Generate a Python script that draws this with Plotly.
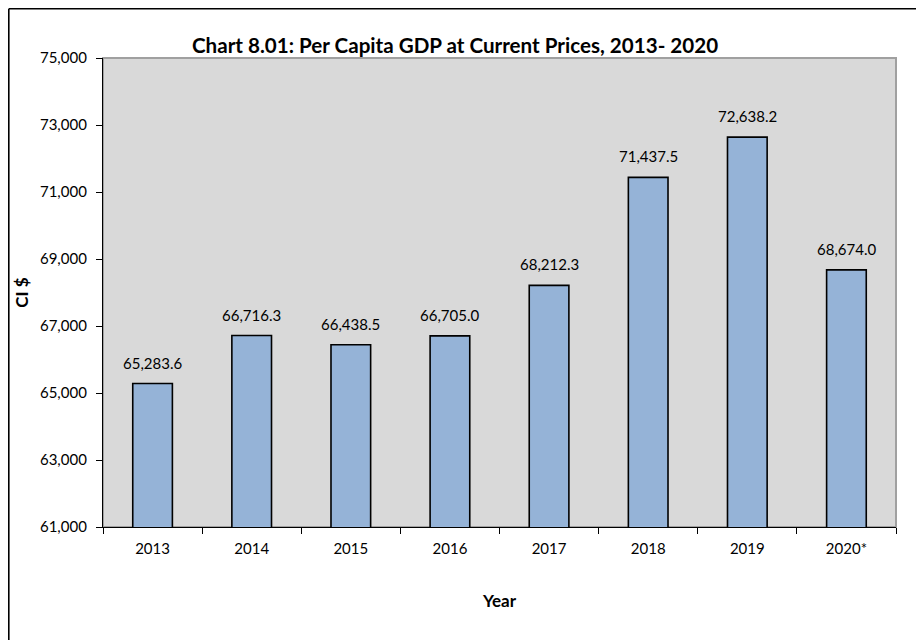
import plotly.graph_objects as go

years = ["2013", "2014", "2015", "2016", "2017", "2018", "2019", "2020*"]
gdp_per_capita = [65283.6, 66716.3, 66438.5, 66705.0, 68212.3, 71437.5, 72638.2, 68674.0]
y_ticks = [61000, 63000, 65000, 67000, 69000, 71000, 73000, 75000]

FONT = "Lato"
OFF = 8  # page body margin offset
W, H = 924, 640
L, T = 103 - OFF, 58 - OFF
R = W - (896 - OFF)
B = H - (527 - OFF)
pw, ph = W - L - R, H - T - B

fig = go.Figure()
fig.add_trace(go.Bar(
    x=years, y=gdp_per_capita,
    marker=dict(color="#95b3d7", line=dict(color="#000000", width=1.6)),
    hoverinfo="x+y",
))

annotations = []
for i, v in enumerate(gdp_per_capita):
    annotations.append(dict(
        x=i, y=v, xref="x", yref="y", text=f"{v:,.1f}", showarrow=False,
        yanchor="bottom", yshift=10, font=dict(family=FONT, size=15, color="#000")))

annotations.append(dict(
    x=(455 - OFF - L) / pw, y=1 + (T - (45 - OFF)) / ph, xref="paper", yref="paper",
    text="<b>Chart 8.01: Per Capita GDP at Current Prices, 2013- 2020</b>",
    showarrow=False, xanchor="center", yanchor="middle",
    font=dict(family=FONT, size=20.6, color="#000")))

bx = (0.8 - L) / pw
by = 1 + (T - 0.8) / ph
fig.update_layout(
    width=W, height=H,
    margin=dict(l=L, r=R, t=T, b=B),
    paper_bgcolor="#ffffff",
    plot_bgcolor="#d9d9d9",
    bargap=0.6,
    showlegend=False,
    font=dict(family=FONT, size=15, color="#000"),
    annotations=annotations,
    shapes=[
        dict(type="rect", xref="paper", yref="paper", x0=0, x1=1, y0=0, y1=1,
             line=dict(color="#a0a0a0", width=2), layer="below"),
        dict(type="line", xref="paper", yref="paper",
             x0=bx, x1=bx, y0=by, y1=-(B + 10) / ph,
             line=dict(color="#000", width=1.6)),
        dict(type="line", xref="paper", yref="paper",
             x0=bx, x1=1 + (R + 10) / pw, y0=by, y1=by,
             line=dict(color="#000", width=1.6)),
    ],
    xaxis=dict(
        type="category", range=[-0.5, len(years) - 0.5], autorange=False,
        showgrid=False, showline=True, linecolor="#000", linewidth=1.3,
        ticks="outside", tickson="boundaries", ticklen=6, tickcolor="#000", tickwidth=1.3,
        tickfont=dict(family=FONT, size=15), tickangle=0, ticklabelstandoff=8,
        title=dict(text="<b>Year</b>", font=dict(family=FONT, size=17), standoff=38),
    ),
    yaxis=dict(
        range=[61000, 75000], autorange=False, tickvals=y_ticks, tickformat=",",
        showgrid=False, zeroline=False, showline=True, linecolor="#000", linewidth=1.3,
        ticks="outside", ticklen=6, tickcolor="#000", tickwidth=1.3,
        tickfont=dict(family=FONT, size=15), ticklabelstandoff=6,
        title=dict(text="<b>CI $</b>", font=dict(family=FONT, size=17), standoff=6),
    ),
)

fig.write_html("out.html")
